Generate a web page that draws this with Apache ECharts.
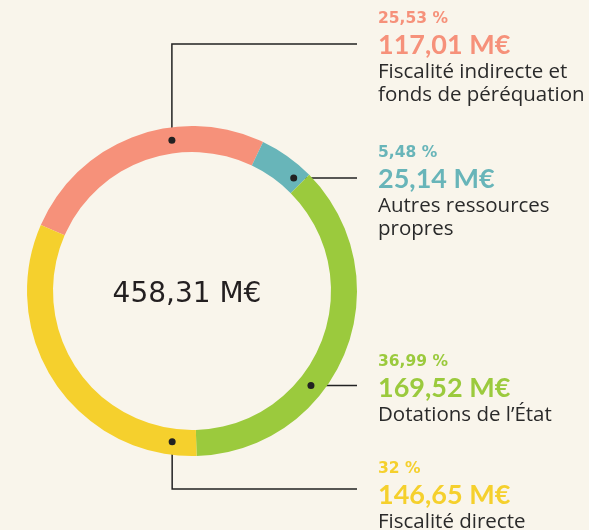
<!DOCTYPE html>
<html>
<head>
<meta charset="utf-8">
<script src="https://cdn.jsdelivr.net/npm/echarts@6/dist/echarts.min.js"></script>
<style>
  html, body { margin: 0; padding: 0; background: #f9f5eb; }
  #chart { width: 589px; height: 530px; }
</style>
</head>
<body>
<div id="chart"></div>
<script>
// données
var categories = ['Fiscalité indirecte et\nfonds de péréquation', 'Autres ressources\npropres', 'Dotations de l’État', 'Fiscalité directe'];
var amounts = [117.01, 25.14, 169.52, 146.65];
var shares = [25.53, 5.48, 36.99, 32];
var totalLabel = '458,31 M€';
var colors = ['#f6917a', '#68b5b9', '#9bca3d', '#f5d02d'];

// mise en page
var CX = 192, CY = 291, R_IN = 139, R_OUT = 165, R_MID = 152;
var LABEL_X = 378;
var LABEL_Y = [9, 143, 352, 459];
var LINE_END_X = 357;
var ELBOW_Y = [44, null, null, 489];
var DOT_ANGLE = [352.4, 42, 128.5, 187.5]; // degrés, sens horaire depuis le haut

function fr(v, d) {
    return (d ? v.toFixed(d) : String(v)).replace('.', ',');
}

function dotPoint(i) {
    var a = DOT_ANGLE[i] * Math.PI / 180;
    return [CX + R_MID * Math.sin(a), CY - R_MID * Math.cos(a)];
}

function linePoints(i) {
    var p = dotPoint(i);
    if (ELBOW_Y[i] != null) {
        return [p, [p[0], ELBOW_Y[i]], [LINE_END_X, ELBOW_Y[i]]];
    }
    return [p, [(p[0] + LINE_END_X) / 2, p[1]], [LINE_END_X, p[1]]];
}

var chart = echarts.init(document.getElementById('chart'), null, { renderer: 'canvas' });

var data = categories.map(function (c, i) {
    return { name: c, value: amounts[i], itemStyle: { color: colors[i] } };
});

var dots = categories.map(function (c, i) {
    var p = dotPoint(i);
    return {
        type: 'circle',
        shape: { cx: p[0], cy: p[1], r: 3.5 },
        style: { fill: '#222' },
        z: 100
    };
});

chart.setOption({
    backgroundColor: '#f9f5eb',
    animation: false,
    series: [{
        type: 'pie',
        center: [CX, CY],
        radius: [R_IN, R_OUT],
        startAngle: 156.4,
        clockwise: true,
        avoidLabelOverlap: false,
        emphasis: { disabled: true },
        data: data,
        label: {
            show: true,
            position: 'outside',
            formatter: function (p) {
                var i = p.dataIndex;
                var name = categories[i].split('\n').map(function (l) {
                    return '{n|' + l + '}';
                }).join('\n');
                return '{p' + i + '|' + fr(shares[i]) + ' %}\n{v' + i + '|' + fr(amounts[i], 2) + ' M€}\n' + name;
            },
            rich: (function () {
                var r = {
                    n: { fontFamily: 'Open Sans', fontSize: 20.5, color: '#2a2a2a', lineHeight: 23 }
                };
                colors.forEach(function (c, i) {
                    r['p' + i] = { fontFamily: 'DejaVu Sans', fontWeight: 'bold', fontSize: 15.5, color: c, lineHeight: 20 };
                    r['v' + i] = { fontFamily: 'Lato', fontWeight: 'bold', fontSize: 27, color: c, lineHeight: 32 };
                });
                return r;
            })()
        },
        labelLine: {
            show: true,
            lineStyle: { color: '#222', width: 1.5 }
        },
        labelLayout: function (params) {
            var i = params.dataIndex;
            return {
                x: LABEL_X,
                y: LABEL_Y[i],
                align: 'left',
                verticalAlign: 'top',
                labelLinePoints: linePoints(i)
            };
        }
    }],
    graphic: dots.concat([{
        type: 'text',
        x: 187,
        y: 295,
        style: {
            text: totalLabel,
            fontFamily: 'DejaVu Sans',
            fontSize: 28,
            fill: '#231f20',
            align: 'center',
            verticalAlign: 'middle'
        }
    }])
});
</script>
</body>
</html>
